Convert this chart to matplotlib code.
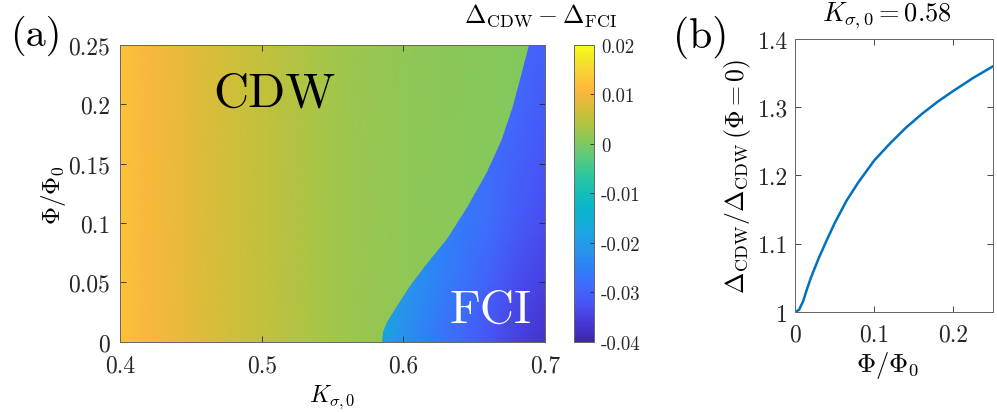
import matplotlib
matplotlib.use("Agg")
import numpy as np
import matplotlib.pyplot as plt
from matplotlib.colors import LinearSegmentedColormap
from matplotlib.patches import Polygon

plt.rcParams["font.family"] = "serif"
plt.rcParams["font.serif"] = ["cmr10"]
plt.rcParams["mathtext.fontset"] = "cm"
plt.rcParams["axes.unicode_minus"] = False

# ── Data: panel (a) ──────────────────────────────────────────────────────────
# CDW region: value only varies with K
k_cdw = [0.40, 0.42, 0.45, 0.48, 0.50, 0.53, 0.56, 0.60, 0.65, 0.70]
gap_cdw = [0.0125, 0.0105, 0.0085, 0.0066, 0.0055, 0.0040, 0.0026, 0.0015, 0.0009, 0.0005]

# FCI region: coarse grid (rows = phi, cols = K)
k_fci = [0.58, 0.60, 0.62, 0.64, 0.66, 0.68, 0.70]
phi_fci = [0.0, 0.05, 0.10, 0.15, 0.20, 0.25]
gap_fci = [
    [-0.015, -0.022, -0.026, -0.029, -0.032, -0.035, -0.037],
    [-0.018, -0.021, -0.024, -0.027, -0.030, -0.033, -0.035],
    [-0.020, -0.022, -0.024, -0.026, -0.028, -0.031, -0.033],
    [-0.022, -0.023, -0.025, -0.027, -0.028, -0.030, -0.032],
    [-0.024, -0.025, -0.026, -0.027, -0.028, -0.029, -0.031],
    [-0.025, -0.026, -0.027, -0.028, -0.029, -0.029, -0.030],
]

# phase boundary CDW | FCI
phi_bound = [0.0, 0.008, 0.0163, 0.0303, 0.0472, 0.0640, 0.0865, 0.1146, 0.1427,
             0.1708, 0.1989, 0.2270, 0.25]
k_bound = [0.585, 0.5855, 0.5885, 0.5953, 0.6047, 0.6152, 0.6306, 0.6458, 0.6588,
           0.6694, 0.6776, 0.6835, 0.6886]

# ── Data: panel (b) ──────────────────────────────────────────────────────────
phi_b = [0.0, 0.005, 0.010, 0.015, 0.020, 0.030, 0.040, 0.050, 0.065, 0.080,
         0.100, 0.120, 0.140, 0.160, 0.180, 0.200, 0.225, 0.250]
ratio_b = [1.000, 1.003, 1.015, 1.033, 1.050, 1.079, 1.105, 1.130, 1.163, 1.190,
           1.222, 1.247, 1.270, 1.290, 1.308, 1.324, 1.343, 1.360]

# parula-like colormap
parula = LinearSegmentedColormap.from_list("parula", [
    (0.000, "#3E26A8"), (0.063, "#4638D6"), (0.125, "#4852F4"),
    (0.188, "#416AFD"), (0.250, "#2E81F7"), (0.313, "#2796EB"),
    (0.375, "#1AA7E0"), (0.438, "#0AB3CE"), (0.500, "#12BEB9"),
    (0.563, "#2FC69E"), (0.625, "#5CC97B"), (0.688, "#8CC858"),
    (0.750, "#BCC23C"), (0.813, "#E6BA3A"), (0.850, "#FDB83D"),
    (0.900, "#FCCB36"), (0.950, "#F3E52A"), (1.000, "#F9FB15"),
])

C_AX = "#262626"
fig = plt.figure(figsize=(9.97, 4.14), dpi=100)

# ── Panel (a) ────────────────────────────────────────────────────────────────
ax = fig.add_axes([0.1204, 0.1722, 0.4263, 0.7167])
kk, pp = np.meshgrid(k_cdw, [0.0, 0.25])
pcm = ax.pcolormesh(kk, pp, np.vstack([gap_cdw, gap_cdw]), shading="gouraud",
                    cmap=parula, vmin=-0.04, vmax=0.02)

kf, pf = np.meshgrid(k_fci, phi_fci)
pcf = ax.pcolormesh(kf, pf, np.array(gap_fci), shading="gouraud",
                    cmap=parula, vmin=-0.04, vmax=0.02)
verts = list(zip(k_bound, phi_bound)) + [(0.71, 0.26), (0.71, -0.01), (k_bound[0], -0.01)]
clip = Polygon(verts, closed=True, transform=ax.transData)
pcf.set_clip_path(clip)

ax.set_xlim(0.4, 0.7)
ax.set_ylim(0, 0.25)
ax.set_xticks([0.4, 0.5, 0.6, 0.7])
ax.set_xticklabels(["0.4", "0.5", "0.6", "0.7"])
ax.set_yticks([0, 0.05, 0.1, 0.15, 0.2, 0.25])
ax.set_yticklabels(["0", "0.05", "0.1", "0.15", "0.2", "0.25"])
ax.tick_params(direction="in", top=True, right=True, length=4, width=0.6,
               colors=C_AX, labelsize=17)
ax.tick_params(axis="x", pad=9)
ax.tick_params(axis="y", pad=7)
for s in ax.spines.values():
    s.set_color("#666666")
    s.set_linewidth(0.7)

ax.text(0.509, 0.2087, "CDW", fontsize=35, ha="center", va="center", color="black")
ax.text(0.6618, 0.0271, "FCI", fontsize=34, ha="center", va="center", color="white")

fig.text(0.054, 0.529, r"$\Phi/\Phi_0$", rotation=90, ha="center", va="center",
         fontsize=18)
fig.text(0.333, 0.04, r"$K_{\sigma,0}$", ha="center", va="center", fontsize=17)
fig.text(0.036, 0.913, "(a)", ha="center", va="center", fontsize=29)

# colorbar
cax = fig.add_axes([0.5757, 0.1715, 0.0201, 0.7174])
cb = fig.colorbar(pcm, cax=cax, ticks=[0.02, 0.01, 0, -0.01, -0.02, -0.03, -0.04])
cb.ax.set_yticklabels(["0.02", "0.01", "0", "-0.01", "-0.02", "-0.03", "-0.04"])
cb.ax.tick_params(direction="in", length=3, width=0.6, colors=C_AX, labelsize=13.5, pad=5)
cb.outline.set_edgecolor("#666666")
cb.outline.set_linewidth(0.7)
fig.text(0.5426, 0.962, r"$\Delta_{\rm CDW}-\Delta_{\rm FCI}$", ha="center",
         va="center", fontsize=18.5)

# ── Panel (b) ────────────────────────────────────────────────────────────────
axb = fig.add_axes([0.7974, 0.2440, 0.1986, 0.6594])
axb.plot(phi_b, ratio_b, color="#0072BD", lw=1.8)
axb.set_xlim(0, 0.25)
axb.set_ylim(1, 1.4)
axb.set_xticks([0, 0.1, 0.2])
axb.set_xticklabels(["0", "0.1", "0.2"])
axb.set_yticks([1, 1.1, 1.2, 1.3, 1.4])
axb.set_yticklabels(["1", "1.1", "1.2", "1.3", "1.4"])
axb.tick_params(direction="in", top=True, right=True, length=4, width=0.6,
                colors=C_AX, labelsize=17)
axb.tick_params(axis="x", pad=8)
axb.tick_params(axis="y", pad=5)
for s in axb.spines.values():
    s.set_color("#666666")
    s.set_linewidth(0.7)

fig.text(0.740, 0.5737, r"$\Delta_{\rm CDW}/\Delta_{\rm CDW}\,(\Phi=0)$", rotation=90,
         ha="center", va="center", fontsize=18.5)
fig.text(0.8897, 0.118, r"$\Phi/\Phi_0$", ha="center", va="center", fontsize=19)
fig.text(0.8897, 0.962, r"$K_{\sigma,0}=0.58$", ha="center", va="center", fontsize=19)
fig.text(0.703, 0.909, "(b)", ha="center", va="center", fontsize=30)

fig.savefig("out.png", dpi=100, facecolor="white")
